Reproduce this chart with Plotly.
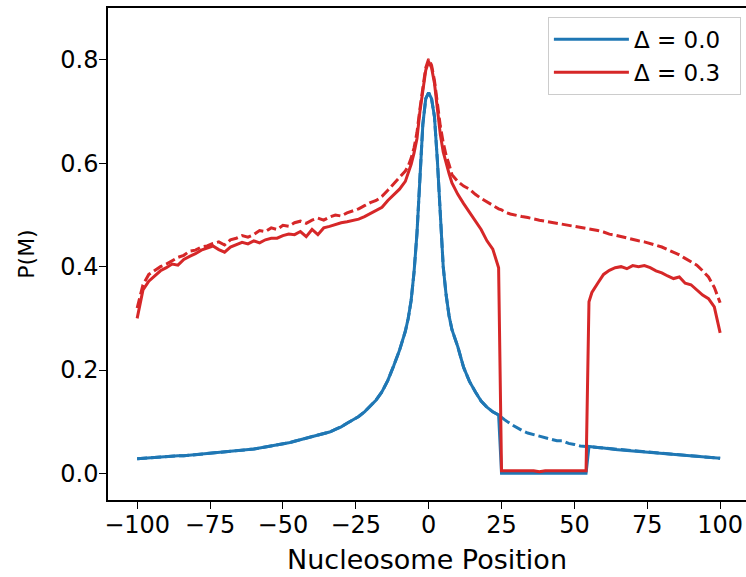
import plotly.graph_objects as go

# Nucleosome positions (x)
X = [-100, -98, -96, -94, -92, -90, -88, -86, -84, -82,
     -80, -78, -76, -74, -72, -70, -68, -66, -64, -62,
     -60, -58, -56, -54, -52, -50, -48, -46, -44, -42,
     -40, -38, -36, -34, -32, -30, -28, -26, -24, -22,
     -20, -18, -16, -14, -12, -10, -8,
     -7, -6, -5, -4, -3, -2, -1, 0, 1, 2, 3, 4, 5, 6, 7,
     8, 10, 12, 14, 16, 18, 20, 22, 24,
     25,
     26, 28, 30, 32, 34, 36, 38, 40, 42, 44, 46, 48, 50, 52, 54,
     55,
     56, 58, 60, 62, 64, 66, 68, 70, 72, 74, 76, 78, 80, 82, 84, 86, 88, 90,
     92, 94, 96, 98, 100]

# Delta = 0.0, solid
BLUE_SOLID = [0.028, 0.029, 0.030, 0.031, 0.031, 0.032, 0.033, 0.034, 0.034, 0.035,
              0.036, 0.037, 0.038, 0.039, 0.040, 0.041, 0.042, 0.043, 0.045, 0.046,
              0.047, 0.049, 0.051, 0.053, 0.055, 0.056, 0.059, 0.062, 0.065, 0.068,
              0.070, 0.073, 0.077, 0.080, 0.085, 0.090, 0.097, 0.103, 0.110, 0.119,
              0.130, 0.142, 0.158, 0.180, 0.208, 0.238, 0.275,
              0.300, 0.335, 0.390, 0.465, 0.575, 0.675, 0.725, 0.737, 0.725, 0.690,
              0.605, 0.490, 0.400, 0.345, 0.305,
              0.278, 0.245, 0.205, 0.178, 0.158, 0.140, 0.128, 0.119, 0.113,
              0.0,
              0.0, 0.0, 0.0, 0.0, 0.0, 0.0, 0.0, 0.0, 0.0, 0.0, 0.0, 0.0, 0.0, 0.0, 0.0,
              0.052,
              0.051, 0.050, 0.049, 0.047, 0.046, 0.045, 0.044, 0.043, 0.042, 0.041,
              0.040, 0.039, 0.038, 0.037, 0.036, 0.035, 0.034, 0.033, 0.032, 0.032,
              0.031, 0.030, 0.029]

# Delta = 0.0, dashed
BLUE_DASHED = [0.028, 0.029, 0.030, 0.031, 0.031, 0.032, 0.033, 0.034, 0.034, 0.035,
               0.036, 0.037, 0.038, 0.039, 0.040, 0.041, 0.042, 0.043, 0.045, 0.046,
               0.047, 0.049, 0.051, 0.053, 0.055, 0.056, 0.059, 0.062, 0.065, 0.068,
               0.070, 0.073, 0.077, 0.080, 0.085, 0.090, 0.097, 0.103, 0.110, 0.119,
               0.130, 0.142, 0.158, 0.180, 0.208, 0.238, 0.275,
               0.300, 0.335, 0.390, 0.465, 0.575, 0.675, 0.725, 0.737, 0.725, 0.690,
               0.605, 0.490, 0.400, 0.345, 0.305,
               0.278, 0.245, 0.205, 0.178, 0.158, 0.140, 0.128, 0.119, 0.113,
               0.108,
               0.104, 0.096, 0.089, 0.083, 0.078, 0.075, 0.071, 0.069, 0.066, 0.063,
               0.063, 0.058, 0.056, 0.053, 0.052,
               0.052,
               0.051, 0.050, 0.049, 0.047, 0.046, 0.045, 0.044, 0.043, 0.042, 0.041,
               0.040, 0.039, 0.038, 0.037, 0.036, 0.035, 0.034, 0.033, 0.032, 0.032,
               0.031, 0.030, 0.029]

# Delta = 0.3, solid
RED_SOLID = [0.300, 0.355, 0.372, 0.383, 0.392, 0.398, 0.405, 0.403, 0.414, 0.420,
             0.425, 0.432, 0.436, 0.440, 0.433, 0.428, 0.438, 0.443, 0.447, 0.444,
             0.450, 0.446, 0.452, 0.455, 0.455, 0.460, 0.463, 0.462, 0.468, 0.458,
             0.472, 0.462, 0.475, 0.478, 0.482, 0.485, 0.487, 0.490, 0.492, 0.497,
             0.503, 0.508, 0.515, 0.528, 0.540, 0.550, 0.565,
             0.580, 0.598, 0.620, 0.648, 0.700, 0.745, 0.780, 0.797, 0.785, 0.755,
             0.705, 0.656, 0.622, 0.598, 0.580,
             0.562, 0.540, 0.522, 0.505, 0.490, 0.472, 0.450, 0.434, 0.398,
             0.005,
             0.005, 0.005, 0.005, 0.004, 0.005, 0.005, 0.003, 0.005, 0.005, 0.005,
             0.005, 0.004, 0.005, 0.005, 0.005,
             0.332,
             0.350, 0.368, 0.385, 0.393, 0.398, 0.400, 0.396, 0.402, 0.400, 0.402,
             0.398, 0.392, 0.388, 0.382, 0.377, 0.380, 0.368, 0.365, 0.355, 0.345,
             0.338, 0.322, 0.272]

# Delta = 0.3, dashed
RED_DASHED = [0.320, 0.365, 0.385, 0.392, 0.400, 0.405, 0.412, 0.418, 0.422, 0.430,
              0.432, 0.438, 0.440, 0.445, 0.448, 0.442, 0.452, 0.455, 0.460, 0.457,
              0.462, 0.470, 0.468, 0.475, 0.472, 0.480, 0.478, 0.485, 0.488, 0.484,
              0.490, 0.494, 0.490, 0.496, 0.500, 0.498, 0.504, 0.508, 0.512, 0.518,
              0.524, 0.528, 0.536, 0.548, 0.560, 0.572, 0.585,
              0.595, 0.610, 0.630, 0.660, 0.705, 0.750, 0.785, 0.802, 0.790, 0.760,
              0.712, 0.672, 0.640, 0.615, 0.598,
              0.578, 0.565, 0.556, 0.550, 0.540, 0.532, 0.525, 0.518, 0.512,
              0.510,
              0.506, 0.502, 0.499, 0.497, 0.495, 0.492, 0.490, 0.488, 0.486, 0.484,
              0.482, 0.480, 0.478, 0.476, 0.475,
              0.474,
              0.472, 0.470, 0.467, 0.463, 0.461, 0.458, 0.455, 0.452, 0.450, 0.448,
              0.445, 0.442, 0.438, 0.433, 0.428, 0.423, 0.416, 0.410, 0.403, 0.392,
              0.380, 0.360, 0.330]

X_TICKS = [-100, -75, -50, -25, 0, 25, 50, 75, 100]
X_TICK_TEXT = ["\u2212100", "\u221275", "\u221250", "\u221225", "0", "25", "50", "75", "100"]
Y_TICKS = [0.0, 0.2, 0.4, 0.6, 0.8]
Y_TICK_TEXT = ["0.0", "0.2", "0.4", "0.6", "0.8"]
LABELS = ["\u0394 = 0.0\u00a0\u00a0", "\u0394 = 0.3\u00a0\u00a0"]

for s in (BLUE_SOLID, BLUE_DASHED, RED_SOLID, RED_DASHED):
    assert len(s) == len(X), len(s)

BLUE = "#1f77b4"
RED = "#d62728"
DASH = "10px,4px"

fig = go.Figure()
fig.add_trace(go.Scatter(x=X, y=BLUE_DASHED, mode="lines", showlegend=False,
                         line=dict(color=BLUE, width=3, dash=DASH)))
fig.add_trace(go.Scatter(x=X, y=BLUE_SOLID, mode="lines", name=LABELS[0],
                         line=dict(color=BLUE, width=3)))
fig.add_trace(go.Scatter(x=X, y=RED_DASHED, mode="lines", showlegend=False,
                         line=dict(color=RED, width=3, dash=DASH)))
fig.add_trace(go.Scatter(x=X, y=RED_SOLID, mode="lines", name=LABELS[1],
                         line=dict(color=RED, width=3)))

fig.update_layout(
    width=746, height=577,
    margin=dict(l=108, r=0, t=8, b=77),
    paper_bgcolor="white", plot_bgcolor="white",
    font=dict(family="DejaVu Sans", color="black"),
    legend=dict(x=0.992, y=0.982, xanchor="right", yanchor="top",
                bgcolor="rgba(255,255,255,0.8)", bordercolor="#cccccc",
                borderwidth=1, font=dict(size=23), itemwidth=75),
    xaxis=dict(range=[-110, 108.87], tickvals=X_TICKS, ticktext=X_TICK_TEXT,
               ticks="outside", ticklen=7, tickwidth=1.3, tickcolor="black",
               showline=True, linecolor="black", linewidth=1.5, mirror=True,
               showgrid=False, zeroline=False, automargin=False,
               tickfont=dict(size=24), ticklabelstandoff=-5,
               title=dict(text="Nucleosome Position", font=dict(size=27), standoff=13)),
    yaxis=dict(range=[-0.0516, 0.9006], tickvals=Y_TICKS, ticktext=Y_TICK_TEXT,
               ticks="outside", ticklen=7, tickwidth=1.3, tickcolor="black",
               showline=True, linecolor="black", linewidth=1.5, mirror=False,
               showgrid=False, zeroline=False, automargin=False,
               tickfont=dict(size=24), ticklabelstandoff=-4,
               title=dict(text="P(M)", font=dict(size=22), standoff=20)),
)

fig.write_html("out.html", config={"displayModeBar": False},
               post_script="document.body.style.margin='0';")
